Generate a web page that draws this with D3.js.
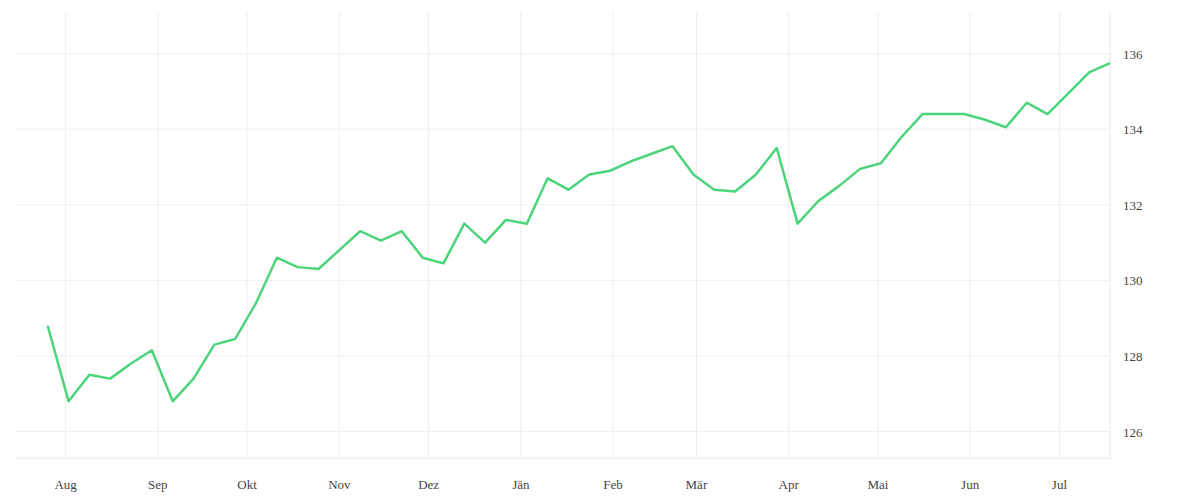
<!DOCTYPE html>
<html><head><meta charset="utf-8">
<script src="https://cdn.jsdelivr.net/npm/d3@7"></script>
<style>body{margin:0;background:#fff}text{font-family:"Liberation Serif",serif;font-size:13px;fill:#444}</style>
</head><body><svg id="chart" width="1200" height="500"></svg>
<script>
// weekly values, first week starts 2022-07-26
var startDate = new Date(2022, 6, 26);
var values = [128.8,126.8,127.5,127.4,127.8,128.15,126.8,127.4,128.3,128.45,129.4,130.6,130.35,130.3,130.8,131.3,131.05,131.3,130.6,130.45,131.5,131.0,131.6,131.5,132.7,132.4,132.8,132.9,133.15,133.35,133.55,132.8,132.4,132.35,132.8,133.5,131.5,132.1,132.5,132.95,133.1,133.8,134.4,134.4,134.4,134.25,134.05,134.7,134.4,134.95,135.5,135.75];
var yTicks = [126,128,130,132,134,136];
var monthNames = ['Jän','Feb','Mär','Apr','Mai','Jun','Jul','Aug','Sep','Okt','Nov','Dez'];

function drawChart(){
	var data = values.map(function(v,i){ return {date: d3.timeDay.offset(startDate, i*7), value: v}; });

	var svg = d3.select('#chart');
	var left = 15, right = 1110, topY = 12, bottom = 458;

	// pin first/last weeks to the picture
	var x = d3.scaleTime()
		.domain([d3.timeDay.offset(startDate, -10.7), d3.timeDay.offset(startDate, 51*7+0.7)])
		.range([left, right]);
	var y = d3.scaleLinear().domain([125.3, 137.1]).range([bottom, topY]);

	var months = d3.timeMonth.range(new Date(2022,7,1), new Date(2023,6,2));

	svg.append('g').selectAll('line').data(months).enter().append('line')
		.attr('x1', d => x(d)).attr('x2', d => x(d)).attr('y1', topY).attr('y2', bottom)
		.attr('stroke', '#eee');
	svg.append('g').selectAll('line').data(yTicks).enter().append('line')
		.attr('x1', left).attr('x2', right).attr('y1', d => y(d)).attr('y2', d => y(d))
		.attr('stroke', '#eee');
	svg.append('line').attr('x1', left).attr('x2', right).attr('y1', bottom).attr('y2', bottom).attr('stroke', '#e6e6e6');
	svg.append('line').attr('x1', right).attr('x2', right).attr('y1', topY).attr('y2', bottom).attr('stroke', '#e6e6e6');

	svg.append('g').selectAll('text').data(months).enter().append('text')
		.attr('x', d => x(d)).attr('y', bottom + 31).attr('text-anchor', 'middle')
		.text(d => monthNames[d.getMonth()]);
	svg.append('g').selectAll('text').data(yTicks).enter().append('text')
		.attr('x', right + 13).attr('y', d => y(d) + 5)
		.text(d => d);

	var line = d3.line().x(d => x(d.date)).y(d => y(d.value));
	svg.append('path').datum(data).attr('d', line)
		.attr('fill', 'none').attr('stroke', '#4cd47b').attr('stroke-width', 2.5).attr('stroke-linejoin', 'round');
}
drawChart();
</script></body></html>
